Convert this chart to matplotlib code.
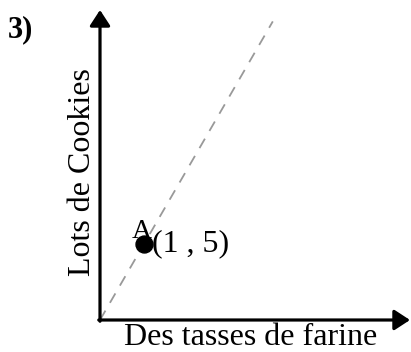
import matplotlib.pyplot as plt
from matplotlib import font_manager

# point A and the line through the origin
point_x = [1]
point_y = [5]
point_name = 'A'
line_x = [0, 3.93]
line_y = [0, 19.65]

plt.rcParams['font.family'] = ['Liberation Serif', 'DejaVu Serif']

fig = plt.figure(figsize=(4.11, 3.52), dpi=100)
ax = fig.add_axes([100 / 411, 32 / 352, 310 / 411, 310 / 352])
ax.set_xlim(0, 7.05)
ax.set_ylim(0, 20.4)
ax.axis('off')

# axes drawn as arrows
arrow = dict(arrowstyle='-|>,head_length=0.95,head_width=0.62', lw=2.3, color='black',
             shrinkA=0, shrinkB=0)
ax.annotate('', xy=(1.0, 0), xytext=(-0.004, 0), xycoords='axes fraction', arrowprops=arrow)
ax.annotate('', xy=(0, 1.0), xytext=(0, -0.004), xycoords='axes fraction', arrowprops=arrow)

ax.plot(line_x, line_y, color='#999999', lw=1.3, dashes=(6, 5))
ax.plot(point_x, point_y, 'o', color='black', markersize=12.2)
ax.annotate(point_name, (point_x[0], point_y[0]), xytext=(-1.5, 4.5), textcoords='offset points',
            ha='center', va='baseline', fontsize=20)
ax.annotate(f'({point_x[0]} , {point_y[0]})', (point_x[0], point_y[0]), xytext=(6, 0),
            textcoords='offset points', ha='left', va='center', fontsize=23)

fig.text(251 / 411, 1 - 345 / 352, 'Des tasses de farine', ha='center', va='baseline', fontsize=23)
fig.text(82 / 411, 1 - 172 / 352, 'Lots de Cookies', ha='center', va='center',
         rotation=90, fontsize=23)
bold = font_manager.FontProperties(family='Liberation Serif', weight='bold', size=22)
fig.text(8 / 411, 1 - 37 / 352, '3)', ha='left', va='baseline', fontproperties=bold)

fig.savefig('out.png', dpi=100)
